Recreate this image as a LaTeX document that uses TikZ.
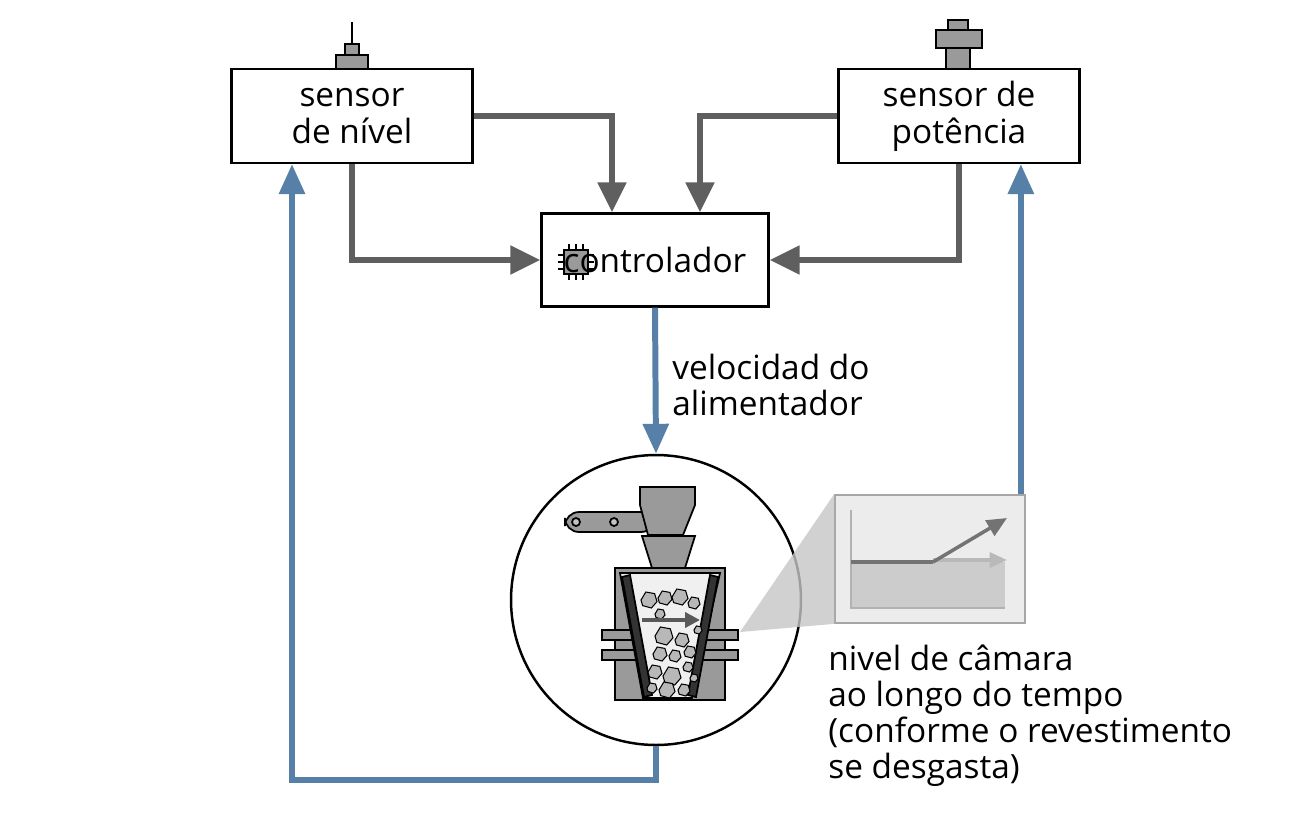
\documentclass[tikz,border=0pt]{standalone}
\usepackage{fontspec}
\setmainfont{Open Sans}
\usetikzlibrary{arrows.meta, positioning}
\definecolor{grayarrow}{HTML}{5F5F5F}
\definecolor{bluearrow}{HTML}{5680A8}
\definecolor{metal}{HTML}{9A9A9A}
\tikzset{
  box/.style={draw, line width=1.2pt, fill=white, minimum width=4.82cm, minimum height=1.88cm, align=center, font=\fontsize{19}{21}\selectfont},
  garrow/.style={draw=grayarrow, line width=3.6pt, -{Triangle[length=0.6cm,width=0.55cm]}},
  barrow/.style={draw=bluearrow, line width=3.4pt, -{Triangle[length=0.6cm,width=0.5cm]}},
  label/.style={align=left, anchor=north west, font=\fontsize{19}{20.5}\selectfont, inner sep=0pt},
  rock/.style={draw, line width=0.6pt, fill=metal!70},
}
\begin{document}
\begin{tikzpicture}[x=0.02cm, y=-0.02cm]
    \useasboundingbox (0,0) rectangle (1312,816);

    % Sensors and controller
    \node[box] (niv) at (352,116) {sensor\\de nível};
    \node[box] (pot) at (959,116) {sensor de\\potência};
    \draw[line width=1.2pt, fill=white] (542,214) rectangle (769,307);

    % Chip icon
    \draw[fill=metal, line width=0.8pt] (564,250) rectangle (588,274);
    \foreach \p in {255,262,269} {
      \draw[line width=0.8pt] (558,\p) -- (564,\p) (588,\p) -- (594,\p);
      \draw[line width=0.8pt] (\p+314,244) -- (\p+314,250) (\p+314,274) -- (\p+314,280);
    }
    \node[box, fill=none, minimum width=4.54cm, minimum height=1.86cm] (ctl) at (655,260) {controlador};

    % Sensor heads
    \draw[fill=metal, line width=0.8pt] (336,55) rectangle (368,69);
    \draw[fill=metal, line width=0.8pt] (345,44) rectangle (359,55);
    \draw[line width=0.8pt] (352,22) -- (352,44);
    \draw[fill=metal, line width=0.8pt] (948,20) rectangle (968,30) (936,30) rectangle (982,48) (946,48) rectangle (970,69);

    % Crusher view and chart
    \node[draw, circle, line width=1.4pt, minimum size=5.8cm] (crusher) at (656,600) {};
    \node[draw=gray!70, fill=gray!15, line width=1pt, minimum width=3.8cm, minimum height=2.56cm] (chart) at (930,559) {};
    \coordinate (tap) at (740,632);
    \fill[gray!45, opacity=0.8] (tap) -- (chart.north west) -- (chart.south west) -- cycle;

    % Feed and return lines
    \coordinate (low) at (292,780);
    \draw[barrow] (ctl.south) -- (crusher.north);
    \node[label] (speed) at (672,354) {velocidad do\\alimentador};
    \draw[barrow] (crusher.south) -- (crusher.south |- low) -- (low) -- (low |- niv.south);
    \draw[barrow] (chart.north east) ++(-5,0) coordinate (up) (up) -- (up |- pot.south);

    % Sensor signal lines
    \coordinate (na) at (612,116);
    \coordinate (pa) at (700,116);
    \draw[garrow] (niv.east) -- (na) -- (na |- ctl.north);
    \draw[garrow] (pot.west) -- (pa) -- (pa |- ctl.north);
    \draw[garrow] (niv.south) -- (niv.south |- ctl.west) -- (ctl.west);
    \draw[garrow] (pot.south) -- (pot.south |- ctl.east) -- (ctl.east);

    % Chart content
    \fill[gray!40] (851,562) rectangle (1005,608);
    \draw[gray!60, line width=1pt] (851,510) -- (851,608) -- (1005,608);
    \draw[gray!55, line width=2pt, -{Triangle[length=0.35cm,width=0.3cm]}] (933,560) -- (1007,560);
    \draw[gray!90!black, line width=2pt] (851,562) -- (933,562);
    \draw[gray!90!black, line width=2pt, -{Triangle[length=0.4cm,width=0.35cm]}] (933,562) -- (1007,518);
    \node[label] (lvl) at (828,645) {nivel de câmara\\ao longo do tempo\\(conforme o revestimento\\se desgasta)};

    % Crusher drawing
    \draw[fill=metal, line width=1pt, rounded corners=8] (565,512) rectangle (655,532);
    \foreach \c in {576,614,650} \draw[fill=metal!60, line width=1pt] (\c,522) circle (4);
    \draw[fill=metal, line width=1pt] (640,487) -- (695,487) -- (695,505) -- (683,535) -- (648,535) -- (640,505) -- cycle;
    \draw[fill=metal, line width=1pt] (642,536) -- (695,536) -- (685,568) -- (652,568) -- cycle;
    \draw[fill=metal, line width=1pt] (615,568) rectangle (725,700);
    \draw[fill=metal, line width=1pt] (602,630) rectangle (738,640) (602,650) rectangle (738,660);
    \draw[fill=metal, line width=0.6pt] (615,640) rectangle (725,650);
    \draw[fill=gray!12, line width=1pt] (620,573) -- (720,573) -- (692,698) -- (643,698) -- cycle;
    \draw[fill=gray!40!black, line width=1pt] (622,577) -- (630,575) -- (652,695) -- (644,697) -- cycle;
    \draw[fill=gray!40!black, line width=1pt] (718,577) -- (710,575) -- (688,695) -- (696,697) -- cycle;
    \foreach \x/\y/\r in {649/600/8,665/598/7,680/597/8,694/603/6,660/614/5,664/636/9,682/640/7,660/654/7,675/656/6,690/652/6,655/672/7,672/676/9,688/667/5,667/690/8,684/690/6,652/688/5,698/630/4,694/678/4}
      \draw[rock] (\x-\r,\y) -- (\x-\r*0.4,\y-\r) -- (\x+\r*0.7,\y-\r*0.8) -- (\x+\r,\y+\r*0.2) -- (\x+\r*0.3,\y+\r) -- (\x-\r*0.8,\y+\r*0.7) -- cycle;
    \draw[gray!70!black, line width=2.5pt, -{Triangle[length=0.3cm,width=0.3cm]}] (642,620) -- (700,620);
\end{tikzpicture}
\end{document}
